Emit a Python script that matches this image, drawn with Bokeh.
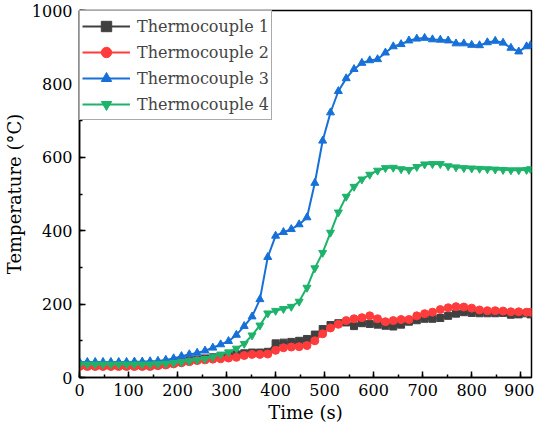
from bokeh.plotting import figure
from bokeh.models import Range1d, SingleIntervalTicker, Legend, LegendItem
from bokeh.embed import file_html
from bokeh.resources import INLINE

time_s = [0, 16, 32, 48, 64, 80, 96, 112, 128, 144, 160, 176, 192, 208, 224, 240,
          256, 272, 288, 304, 320, 336, 352, 368, 384, 400, 416, 432, 448, 464, 480,
          496, 512, 528, 544, 560, 576, 592, 608, 624, 640, 656, 672, 688, 704, 720,
          736, 752, 768, 784, 800, 816, 832, 848, 864, 880, 896, 912, 920]

tc1 = [33, 33, 33, 33, 33, 33, 33, 33, 33, 33, 35, 37, 40, 43, 46, 49,
       52, 55, 58, 61, 63, 66, 68, 68, 70, 93, 95, 97, 100, 105, 117,
       132, 143, 148, 150, 140, 148, 146, 144, 141, 139, 144, 152, 156, 160, 160,
       162, 168, 174, 178, 176, 175, 175, 175, 176, 171, 172, 175, 172]

tc2 = [30, 30, 30, 30, 30, 30, 30, 30, 30, 30, 32, 34, 37, 40, 43, 46,
       48, 50, 51, 53, 55, 60, 63, 63, 64, 74, 81, 83, 84, 87, 100,
       119, 135, 145, 155, 160, 163, 168, 160, 152, 155, 158, 158, 168, 174, 178,
       185, 190, 193, 192, 189, 184, 182, 182, 181, 179, 179, 178, 178]

tc3 = [42, 42, 42, 42, 42, 42, 42, 43, 43, 44, 45, 48, 52, 58, 63, 67,
       73, 81, 90, 99, 116, 140, 166, 213, 328, 386, 396, 404, 417, 436, 530,
       645, 722, 780, 815, 840, 857, 864, 867, 885, 902, 908, 918, 923, 925, 921,
       920, 918, 910, 910, 906, 905, 913, 917, 912, 898, 888, 902, 905]

tc4 = [36, 36, 36, 36, 36, 36, 36, 36, 36, 36, 37, 38, 40, 42, 45, 48,
       51, 56, 63, 69, 79, 92, 115, 142, 175, 182, 187, 193, 207, 245, 298,
       340, 395, 450, 493, 520, 540, 553, 564, 571, 572, 568, 566, 574, 581, 582,
       582, 576, 573, 571, 570, 569, 568, 567, 566, 565, 565, 566, 568]

series_names = ["Thermocouple 1", "Thermocouple 2", "Thermocouple 3", "Thermocouple 4"]
series_values = [tc1, tc2, tc3, tc4]
colors = ["#404040", "#FF3B3B", "#1670D8", "#1DB36B"]
markers = ["square", "circle", "triangle", "inverted_triangle"]
sizes = [7, 8, 8, 8]

FONT = "DejaVu Serif"

p = figure(width=534, height=429, output_backend="svg", toolbar_location=None,
           x_range=Range1d(0, 922), y_range=Range1d(0, 1000),
           min_border_left=69, min_border_top=10, min_border_right=3,
           min_border_bottom=52)
p.xgrid.visible = False
p.ygrid.visible = False
p.outline_line_color = "black"
p.outline_line_width = 1.5
p.background_fill_color = "white"
p.border_fill_color = "white"

items = []
for name, vals, c, m, s in zip(series_names, series_values, colors, markers, sizes):
    r1 = p.line(time_s, vals, line_color=c, line_width=2)
    r2 = p.scatter(time_s, vals, marker=m, size=s, fill_color=c, line_color=c)
    items.append(LegendItem(label=name, renderers=[r1, r2]))

p.xaxis.ticker = SingleIntervalTicker(interval=100, num_minor_ticks=2)
p.yaxis.ticker = SingleIntervalTicker(interval=200, num_minor_ticks=2)
for ax in (p.xaxis[0], p.yaxis[0]):
    ax.major_tick_in = 6
    ax.major_tick_out = 0
    ax.minor_tick_in = 3
    ax.minor_tick_out = 0
    ax.axis_line_width = 1.5
    ax.major_tick_line_width = 1.5
    ax.minor_tick_line_width = 1.5
    ax.major_label_text_font = FONT
    ax.major_label_text_font_size = "16px"
    ax.major_label_text_color = "black"
    ax.axis_label_text_font = FONT
    ax.axis_label_text_font_size = "18px"
    ax.axis_label_text_font_style = "normal"
    ax.axis_label_text_color = "black"
p.xaxis.axis_label = "Time (s)"
p.yaxis.axis_label = "Temperature (°C)"
p.xaxis.major_label_standoff = 6
p.yaxis.major_label_standoff = 7
p.xaxis.axis_label_standoff = 3
p.yaxis.axis_label_standoff = 4

legend = Legend(items=items, location="top_left", margin=0, padding=2, spacing=0,
                glyph_width=48, glyph_height=26, label_height=26, label_standoff=7,
                border_line_color="#555555", border_line_width=1,
                label_text_font=FONT, label_text_font_size="16px",
                background_fill_alpha=1.0)
p.add_layout(legend)

open("out.html", "w").write(file_html(p, INLINE))
